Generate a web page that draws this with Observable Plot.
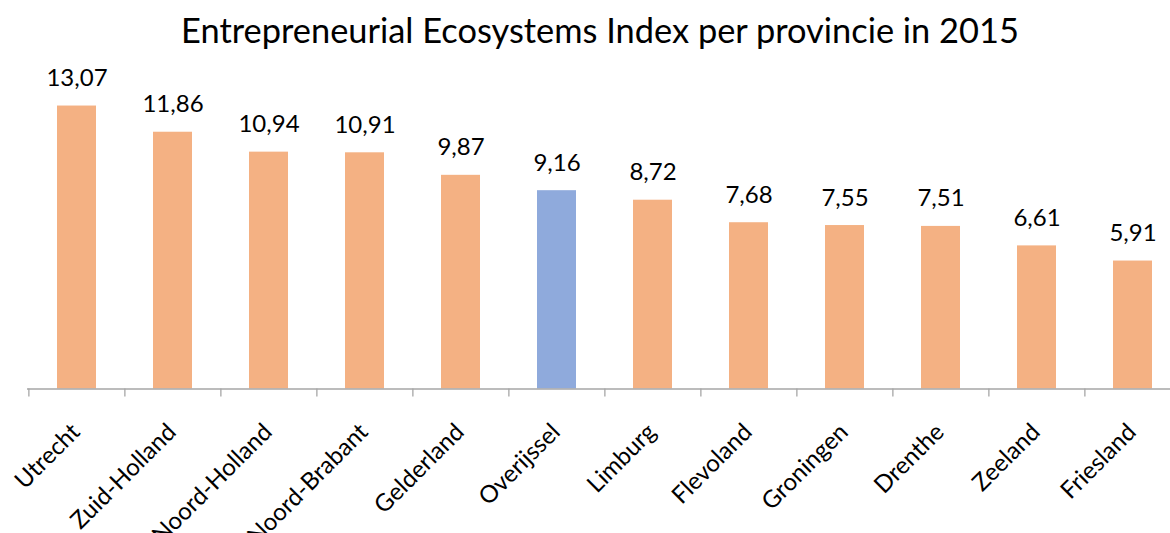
<!DOCTYPE html>
<html>
<head>
<meta charset="utf-8">
<script src="https://cdn.jsdelivr.net/npm/d3@7"></script>
<script src="https://cdn.jsdelivr.net/npm/@observablehq/plot@0.6"></script>
<style>
  html, body { margin: 0; padding: 0; background: #fff; }
  #wrap { position: relative; width: 1170px; height: 533px; overflow: hidden; }
  #title { position: absolute; left: 15px; top: 9px; width: 1170px; text-align: center;
           font-family: Lato, "Open Sans", sans-serif; font-size: 34.4px; line-height: 1.2; color: #000; white-space: nowrap; }
  #chart { position: absolute; left: 0; top: 0; }
</style>
</head>
<body>
<div id="wrap">
  <div id="chart"></div>
  <div id="title">Entrepreneurial Ecosystems Index per provincie in 2015</div>
</div>
<script>
const provinces = ["Utrecht", "Zuid-Holland", "Noord-Holland", "Noord-Brabant", "Gelderland", "Overijssel",
                   "Limburg", "Flevoland", "Groningen", "Drenthe", "Zeeland", "Friesland"];
const values = [13.07, 11.86, 10.94, 10.91, 9.87, 9.16, 8.72, 7.68, 7.55, 7.51, 6.61, 5.91];
const highlight = "Overijssel";

const data = provinces.map((p, i) => ({province: p, value: values[i]}));
const fmt = v => v.toFixed(2).replace(".", ",");

const xRange = [27, 1182];
const step = (xRange[1] - xRange[0]) / provinces.length;
const pad = 0.595;
const font = "Lato, 'Open Sans', sans-serif";

const chart = Plot.plot({
  width: 1170,
  height: 533,
  marginTop: 85.4,
  marginBottom: 144.5,
  marginLeft: 27,
  marginRight: 0,
  style: {fontFamily: font, background: "transparent", overflow: "visible"},
  x: {domain: provinces, range: xRange, paddingInner: pad, paddingOuter: pad / 2, axis: null},
  y: {domain: [0, 14], axis: null},
  marks: [
    Plot.barY(data, {x: "province", y: "value",
      fill: d => d.province === highlight ? "#8FAADC" : "#F4B183"}),
    Plot.text(data, {x: "province", y: "value", text: d => fmt(d.value),
      lineAnchor: "bottom", dy: -20, fontSize: 24, fill: "#000"}),
    Plot.ruleY([0], {stroke: "#a6a6a6", strokeWidth: 1.3}),
    Plot.axisX({tickSize: 8, dx: -step / 2, tickFormat: () => null, stroke: "#a6a6a6", strokeWidth: 1.3, label: null}),
    Plot.text(provinces, {x: d => d, y: 0, text: d => d, rotate: -45, textAnchor: "end",
      lineAnchor: "middle", dx: -1, dy: 39, fontSize: 24, fill: "#000"})
  ]
});
document.getElementById("chart").appendChild(chart);
</script>
</body>
</html>
